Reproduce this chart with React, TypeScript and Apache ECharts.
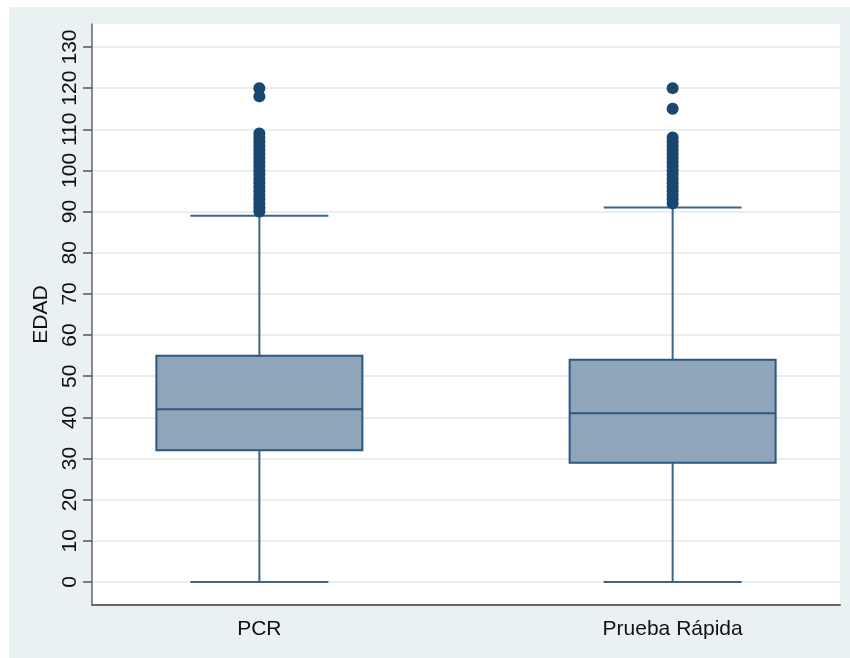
import React, { useEffect, useRef } from "react";
import * as echarts from "echarts";

// Age distribution (EDAD) per test type
const categories = ["PCR", "Prueba Rápida"];
const lowerWhisker = [0, 0];
const q1 = [32, 29];
const median = [42, 41];
const q3 = [55, 54];
const upperWhisker = [89, 91];

// Outside values above the upper adjacent value
const pcrOutliers = [
  90, 91, 92, 93, 94, 95, 96, 97, 98, 99, 100, 101, 102, 103, 104, 105, 106,
  107, 108, 109, 118, 120,
];
const rapidOutliers = [
  92, 93, 94, 95, 96, 97, 98, 99, 100, 101, 102, 103, 104, 105, 106, 107, 108,
  115, 120,
];

const yTicks = [0, 10, 20, 30, 40, 50, 60, 70, 80, 90, 100, 110, 120, 130];
const xTicks = [0, 1];

const FONT = "'Liberation Sans', Arial, sans-serif";
const BOX_WIDTH = 206;
const CAP_WIDTH = 138;
const WHISKER_COLOR = "#3f648a";
const BOX_BORDER = "#2d5680";
const BOX_FILL = "#8fa5ba";
const DOT_COLOR = "#1a476f";

export default function App() {
  const ref = useRef<HTMLDivElement>(null);

  useEffect(() => {
    if (!ref.current) return;
    const chart = echarts.init(ref.current, null, { renderer: "svg" });

    const boxData = categories.map((_, i) => [
      i,
      lowerWhisker[i],
      q1[i],
      median[i],
      q3[i],
      upperWhisker[i],
    ]);

    const outlierData: number[][] = [];
    pcrOutliers.forEach((v) => outlierData.push([0, v]));
    rapidOutliers.forEach((v) => outlierData.push([1, v]));

    const option: echarts.EChartsOption = {
      animation: false,
      graphic: [
        {
          type: "rect",
          left: 9,
          top: 7,
          shape: { width: 841, height: 651 },
          style: { fill: "#eaf1f3" },
          z: -10,
          silent: true,
        },
      ],
      grid: {
        left: 92,
        right: 10,
        top: 24,
        bottom: 53,
        show: true,
        backgroundColor: "#ffffff",
        borderWidth: 0,
      },
      xAxis: {
        type: "value",
        min: -0.405,
        max: 1.405,
        axisLine: {
          show: true,
          onZero: false,
          lineStyle: { color: "#666666", width: 2 },
        },
        axisTick: { show: false, customValues: xTicks },
        splitLine: { show: false },
        axisLabel: {
          customValues: xTicks,
          formatter: (v: number) => categories[Math.round(v)] ?? "",
          color: "#111111",
          fontFamily: FONT,
          fontSize: 21,
          margin: 12,
        },
      },
      yAxis: {
        type: "value",
        min: -5.59,
        max: 135.59,
        name: "EDAD",
        nameLocation: "middle",
        nameRotate: 90,
        nameGap: 32,
        nameTextStyle: { color: "#111111", fontFamily: FONT, fontSize: 21 },
        axisLine: {
          show: true,
          onZero: false,
          lineStyle: { color: "#666666", width: 1.5 },
        },
        axisTick: {
          show: true,
          length: 9,
          customValues: yTicks,
          lineStyle: { color: "#555555", width: 1.5 },
        },
        axisLabel: {
          customValues: yTicks,
          rotate: 90,
          color: "#111111",
          fontFamily: FONT,
          fontSize: 21,
          margin: 13,
        },
        splitLine: {
          show: true,
          lineStyle: { color: "#e8eff1", width: 2 },
        },
      },
      series: [
        {
          type: "custom",
          data: boxData,
          encode: { x: 0, y: [1, 2, 3, 4, 5] },
          z: 2,
          renderItem: (params: any, api: any) => {
            const x = api.value(0);
            const pLow = api.coord([x, api.value(1)]);
            const pQ1 = api.coord([x, api.value(2)]);
            const pMed = api.coord([x, api.value(3)]);
            const pQ3 = api.coord([x, api.value(4)]);
            const pHigh = api.coord([x, api.value(5)]);
            const cx = pMed[0];
            const bw = BOX_WIDTH / 2;
            const cw = CAP_WIDTH / 2;
            const whisker = { stroke: WHISKER_COLOR, lineWidth: 2 };
            return {
              type: "group",
              children: [
                {
                  type: "line",
                  shape: { x1: cx, y1: pLow[1], x2: cx, y2: pQ1[1] },
                  style: whisker,
                },
                {
                  type: "line",
                  shape: { x1: cx, y1: pQ3[1], x2: cx, y2: pHigh[1] },
                  style: whisker,
                },
                {
                  type: "line",
                  shape: { x1: cx - cw, y1: pLow[1], x2: cx + cw, y2: pLow[1] },
                  style: whisker,
                },
                {
                  type: "line",
                  shape: { x1: cx - cw, y1: pHigh[1], x2: cx + cw, y2: pHigh[1] },
                  style: whisker,
                },
                {
                  type: "rect",
                  shape: {
                    x: cx - bw,
                    y: pQ3[1],
                    width: BOX_WIDTH,
                    height: pQ1[1] - pQ3[1],
                  },
                  style: { fill: BOX_FILL, stroke: BOX_BORDER, lineWidth: 2 },
                },
                {
                  type: "line",
                  shape: { x1: cx - bw, y1: pMed[1], x2: cx + bw, y2: pMed[1] },
                  style: { stroke: BOX_BORDER, lineWidth: 2 },
                },
              ],
            };
          },
        },
        {
          type: "scatter",
          data: outlierData,
          symbol: "circle",
          symbolSize: 12,
          itemStyle: { color: DOT_COLOR, opacity: 1 },
          z: 3,
        },
      ],
    };

    chart.setOption(option);
    return () => chart.dispose();
  }, []);

  return (
    <div
      ref={ref}
      style={{ position: "fixed", left: 0, top: 0, width: 850, height: 658 }}
    />
  );
}
